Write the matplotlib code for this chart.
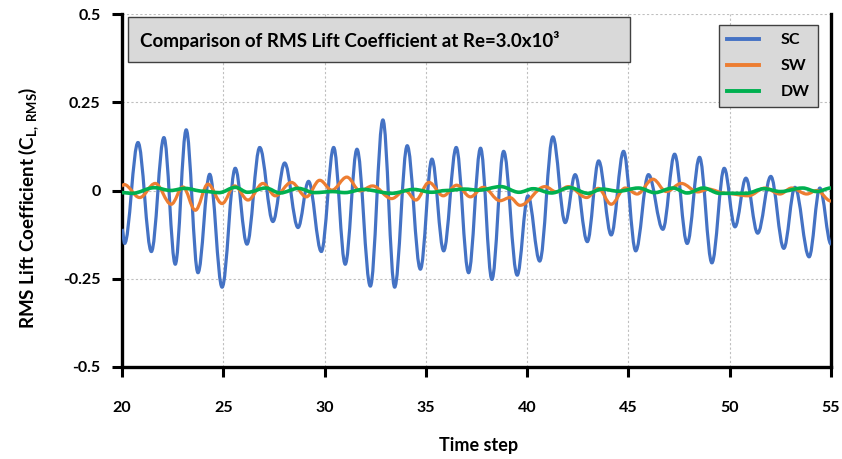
import matplotlib
matplotlib.use("Agg")
import matplotlib.pyplot as plt
from matplotlib.path import Path
from matplotlib.patches import PathPatch, Rectangle
from matplotlib.lines import Line2D

plt.rcParams['font.family'] = ['Lato', 'DejaVu Sans']
plt.rcParams['font.weight'] = 'bold'
plt.rcParams['mathtext.fontset'] = 'custom'
plt.rcParams['mathtext.rm'] = 'Lato:bold'
plt.rcParams['mathtext.default'] = 'rm'

# Extremos (tiempo, valor)
sc_t = [20.0, 20.13, 20.79, 21.45, 22.07, 22.63, 23.17, 23.75, 24.33, 24.94,
        25.59, 26.17, 26.80, 27.45, 28.03, 28.69, 29.21, 29.84, 30.45, 31.02,
        31.60, 32.26, 32.88, 33.46, 34.08, 34.73, 35.30, 35.88, 36.50, 37.11,
        37.70, 38.26, 38.84, 39.51, 40.04, 40.62, 41.27, 41.88, 42.37, 42.97,
        43.53, 44.15, 44.76, 45.36, 45.99, 46.70, 47.28, 47.90, 48.51, 49.12,
        49.73, 50.26, 50.80, 51.38, 52.03, 52.67, 53.22, 53.92, 54.45, 55.0]
sc_v = [-0.110, -0.150, 0.136, -0.173, 0.150, -0.209, 0.172, -0.233, 0.046, -0.274,
        0.063, -0.152, 0.122, -0.088, 0.078, -0.105, 0.026, -0.173, 0.122, -0.209,
        0.117, -0.271, 0.200, -0.274, 0.127, -0.223, 0.089, -0.171, 0.122, -0.233,
        0.120, -0.252, 0.111, -0.240, -0.015, -0.200, 0.152, -0.091, 0.045, -0.145,
        0.084, -0.126, 0.111, -0.171, 0.045, -0.110, 0.103, -0.150, 0.094, -0.205,
        0.063, -0.103, 0.035, -0.121, 0.040, -0.164, 0.009, -0.188, 0.007, -0.152]

sw_t = [20.0, 20.1, 20.87, 21.64, 22.43, 23.01, 23.62, 24.24, 24.94, 25.56,
        26.22, 26.96, 27.57, 28.36, 29.10, 29.76, 30.36, 31.10, 31.75, 32.37,
        33.31, 33.97, 34.51, 35.15, 35.86, 36.52, 37.20, 37.83, 38.66, 39.15,
        39.65, 40.88, 41.45, 42.03, 42.94, 43.51, 44.15, 44.84, 45.43, 46.21,
        46.87, 47.61, 48.43, 48.93, 49.80, 50.92, 51.74, 52.48, 53.06, 53.80,
        54.30, 55.0]
sw_v = [0.013, 0.017, -0.020, 0.020, -0.039, 0.010, -0.056, 0.018, -0.037, 0.013,
        -0.027, 0.020, -0.015, 0.023, -0.018, 0.029, 0.001, 0.038, -0.001, 0.013,
        -0.023, 0.000, -0.027, 0.023, -0.015, 0.015, -0.018, 0.009, -0.029, -0.020,
        -0.042, 0.011, -0.004, 0.011, -0.020, 0.006, -0.039, 0.007, -0.010, 0.032,
        -0.003, 0.020, -0.004, 0.004, -0.008, -0.015, 0.007, -0.010, 0.007, -0.010,
        0.000, -0.030]

dw_t = [20.0, 20.5, 21.6, 22.4, 23.1, 24.0, 24.8, 25.6, 26.2, 27.1,
        27.8, 28.7, 29.5, 30.4, 31.0, 31.9, 33.3, 34.4, 35.3, 36.0,
        36.9, 37.6, 38.7, 39.6, 40.3, 41.2, 42.1, 43.0, 43.7, 44.5,
        45.5, 46.3, 47.2, 47.9, 48.7, 49.5, 50.8, 51.7, 52.5, 53.6,
        54.3, 55.0]
dw_v = [-0.006, -0.008, 0.008, 0.000, 0.006, -0.002, -0.006, 0.009, -0.005, 0.007,
        -0.007, 0.006, -0.006, -0.003, -0.006, 0.003, -0.008, 0.003, -0.005, 0.000,
        0.004, 0.001, 0.011, -0.005, 0.005, -0.007, 0.008, -0.008, 0.004, -0.002,
        0.007, -0.006, 0.007, -0.007, 0.007, -0.008, -0.008, 0.005, -0.003, 0.007,
        -0.003, 0.007]

series = ['SC', 'SW', 'DW']
colores = ['#4472C4', '#ED7D31', '#00B050']
x_ticks = [20, 25, 30, 35, 40, 45, 50, 55]
y_ticks = [-0.5, -0.25, 0, 0.25, 0.5]
y_ticklabels = ['-0.5', '-0.25', '0', '0.25', '0.5']


def curva(t, v, k=0.36):
    # curva suave entre extremos (tangente horizontal en cada extremo)
    verts = [(t[0], v[0])]
    codes = [Path.MOVETO]
    for i in range(len(t) - 1):
        dt = t[i + 1] - t[i]
        verts += [(t[i] + k * dt, v[i]), (t[i + 1] - k * dt, v[i + 1]), (t[i + 1], v[i + 1])]
        codes += [Path.CURVE4] * 3
    return Path(verts, codes)


fig = plt.figure(figsize=(8.42, 4.59), dpi=100)
ax = fig.add_axes([122 / 842, 1 - 367 / 459, 709 / 842, 353 / 459])

datos = [(sc_t, sc_v), (sw_t, sw_v), (dw_t, dw_v)]
for (t, v), c, lw in zip(datos, colores, [2.3, 2.3, 2.6]):
    ax.add_patch(PathPatch(curva(t, v), fill=False, edgecolor=c, lw=lw,
                           joinstyle='round', capstyle='butt', zorder=3))

ax.set_xlim(20, 55)
ax.set_ylim(-0.5, 0.5)
ax.set_xticks(x_ticks)
ax.set_yticks(y_ticks)
ax.set_yticklabels(y_ticklabels)
ax.grid(True, color='#bfbfbf', linestyle=(0, (2, 2)), lw=0.8)
ax.set_axisbelow(True)

for s in ['left', 'bottom', 'right']:
    ax.spines[s].set_linewidth(2.4)
    ax.spines[s].set_color('black')
ax.spines['top'].set_visible(False)
ax.tick_params(axis='both', direction='out', length=7.5, width=2.2, labelsize=11.5)
ax.tick_params(axis='x', pad=17)
ax.tick_params(axis='y', pad=8)
ax.tick_params(axis='y', right=False)

ax.text(0.503, -0.221, 'Time step', transform=ax.transAxes, ha='center', va='center',
        fontsize=13, fontweight='bold')
ax.text(-0.131, 0.45, r'RMS Lift Coefficient (C$_{\mathregular{L,\,RMS}}$)', transform=ax.transAxes,
        ha='center', va='center', rotation=90, fontsize=13.5, fontweight='bold')

# recuadro del título
ax.add_patch(Rectangle((6 / 709, 1 - 62 / 353 + 14 / 353), 502 / 709, 45 / 353,
                       transform=ax.transAxes, facecolor='#d9d9d9', edgecolor='#404040',
                       lw=1.0, zorder=5))
ax.text(18 / 709, 1 - 40 / 353 + 14 / 353, 'Comparison of RMS Lift Coefficient at Re=3.0x10³',
        transform=ax.transAxes, ha='left', va='center', fontsize=13.5, fontweight='bold', zorder=6)

handles = [Line2D([], [], color=c, lw=2.8) for c in colores]
leg = ax.legend(handles, series, loc='upper right', bbox_to_anchor=(826 / 709 - 122 / 709, 1 - 3 / 353),
                prop={'weight': 'bold', 'size': 11.5}, handlelength=2.0, handletextpad=1.4,
                labelspacing=0.75, borderpad=0.5, fancybox=False, framealpha=1)
leg.get_frame().set_facecolor('#d9d9d9')
leg.get_frame().set_edgecolor('#404040')
leg.get_frame().set_linewidth(1.0)
leg.set_zorder(6)

fig.savefig('out.png', dpi=100)
